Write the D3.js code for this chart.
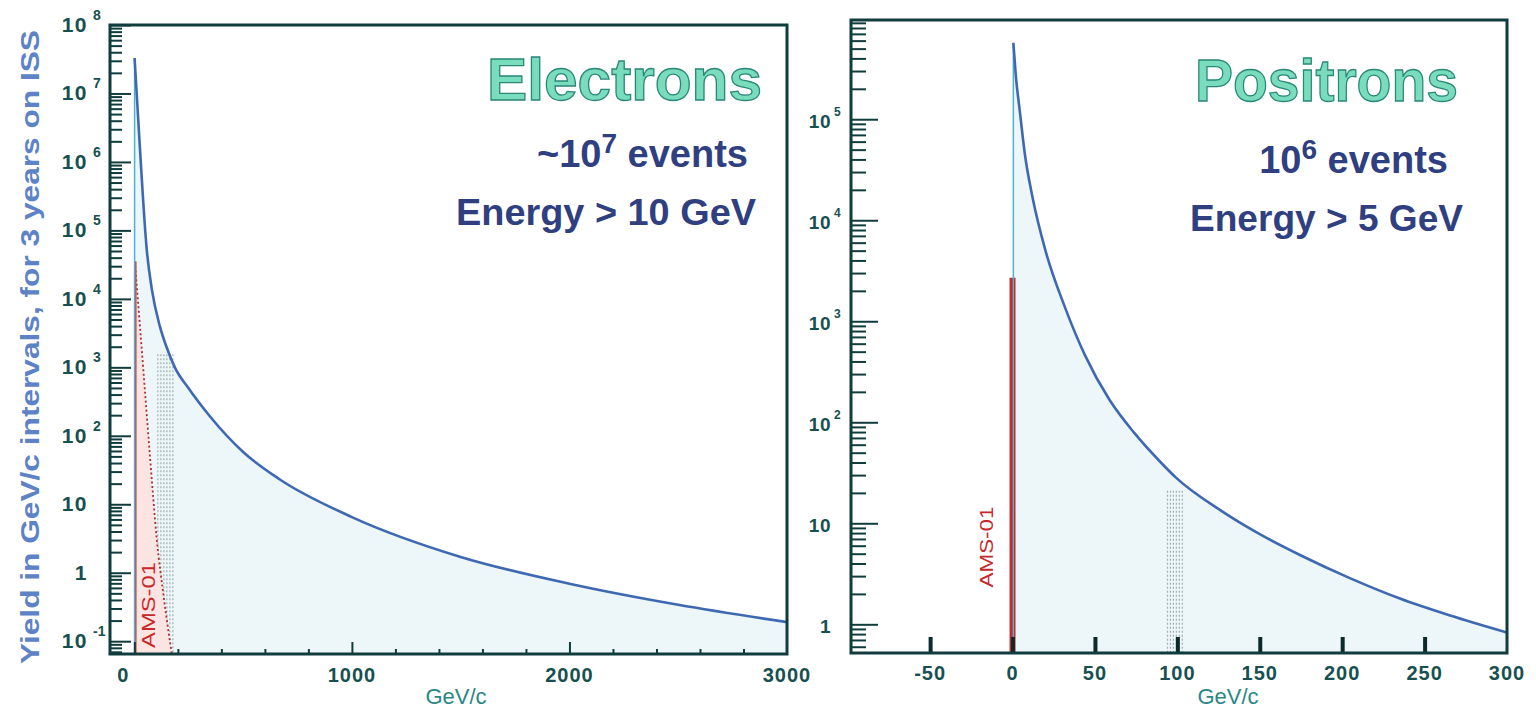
<!DOCTYPE html>
<html>
<head>
<meta charset="utf-8">
<script src="https://cdn.jsdelivr.net/npm/d3@7/dist/d3.min.js"></script>
<style>
  body { margin: 0; background: #fff; }
  svg { display: block; }
  text { font-family: "Liberation Sans", Arial, Helvetica, sans-serif; }
</style>
</head>
<body>
<svg id="chart" width="1536" height="712"></svg>
<script>
// ---- Electrons: yield per GeV/c interval, 3 years on ISS ----
const electronMomentum = [1, 25, 57, 80, 117, 150, 186, 250, 347, 500, 669, 1000, 1500, 2000, 2500, 3000];
const electronYield    = [3.3e7, 1.7e6, 5.2e4, 1.4e4, 4.0e3, 1.9e3, 1.0e3, 490, 193, 58, 23, 6.5, 1.7, 0.69, 0.34, 0.19];

// AMS-01 electron yield (shaded)
const amsElectronMomentum = [2, 25, 48, 71, 103, 136, 172];
const amsElectronYield    = [3.5e4, 4.3e3, 480, 54, 3.1, 0.42, 0.065];

// hatched momentum band and its height
const electronBand = [108, 177];
const electronBandTop = 1550;

// ---- Positrons ----
const positronMomentum = [0.5, 2, 4.5, 7.5, 12, 20, 32, 44, 59, 74, 90, 99, 126, 150, 175, 205, 235, 265, 300];
const positronYield    = [5.7e5, 2.7e5, 1.17e5, 4.5e4, 1.73e4, 5.0e3, 1.35e3, 460, 165, 78, 40, 28.5, 13.5, 7.8, 4.8, 2.85, 1.8, 1.23, 0.83];

// AMS-01 positrons: single bar at the origin
const amsPositronMomentum = 0;
const amsPositronYield = 2.7e3;

const positronBand = [94, 103];
const positronBandTop = 21;

// ---- axes ----
const electronYTicks = [1e-1, 1, 10, 1e2, 1e3, 1e4, 1e5, 1e6, 1e7, 1e8];
const electronXTicks = [0, 1000, 2000, 3000];
const electronXMinor = [200, 400, 600, 800, 1200, 1400, 1600, 1800, 2200, 2400, 2600, 2800];
const positronYTicks = [1, 10, 1e2, 1e3, 1e4, 1e5];
const positronXTicks = [-50, 0, 50, 100, 150, 200, 250, 300];

const INK = "#113c3d";
const LABEL = "#17504f";
const CURVE = "#3e69b1";
const EDGE = "#4cb2d4";
const FILL = "#edf6f9";
const RED = "#c6282b";

const svg = d3.select("#chart");
svg.append("rect").attr("width", 1536).attr("height", 712).attr("fill", "#fff");

function logMinor(scale) {
  const [lo, hi] = scale.domain();
  const out = [];
  for (let k = Math.floor(Math.log10(lo)); k <= Math.ceil(Math.log10(hi)); k++)
    for (let m = 2; m <= 9; m++) {
      const v = m * Math.pow(10, k);
      if (v >= lo && v <= hi) out.push(v);
    }
  return out;
}

function drawPanel(p) {
  const g = svg.append("g");
  const [x0, x1] = p.x.range();
  const [yb, yt] = p.y.range();

  const clipId = "clip" + p.id;
  svg.append("clipPath").attr("id", clipId)
    .append("rect").attr("x", x0).attr("y", yt).attr("width", x1 - x0).attr("height", yb - yt);
  const plot = g.append("g").attr("clip-path", `url(#${clipId})`);

  const pts = p.mom.map((m, i) => [m, p.yield[i]]);

  // filled yield under the curve
  plot.append("path")
    .attr("d", d3.area().x(d => p.x(d[0])).y0(yb).y1(d => p.y(d[1])).curve(d3.curveMonotoneX)(pts))
    .attr("fill", FILL);

  // hatched band
  const bx = d3.range(p.band[0], p.band[1] + 0.001, (p.band[1] - p.band[0]) / 5);
  plot.append("g").selectAll("line").data(bx).join("line")
    .attr("x1", d => p.x(d)).attr("x2", d => p.x(d))
    .attr("y1", p.y(p.bandTop)).attr("y2", yb)
    .attr("stroke", "#9fb0b0").attr("stroke-width", 1.2).attr("stroke-dasharray", "2,2");

  p.extra && p.extra(plot);

  // left edge of the yield histogram
  plot.append("line")
    .attr("x1", p.x(pts[0][0])).attr("x2", p.x(pts[0][0]))
    .attr("y1", yb).attr("y2", p.y(pts[0][1]))
    .attr("stroke", EDGE).attr("stroke-width", 1.5);

  // yield curve
  plot.append("path")
    .attr("d", d3.line().x(d => p.x(d[0])).y(d => p.y(d[1])).curve(d3.curveMonotoneX)(pts))
    .attr("fill", "none").attr("stroke", CURVE).attr("stroke-width", 2.6);

  // y ticks (inward)
  const yMinor = g.append("g").attr("transform", `translate(${x0},0)`)
    .call(d3.axisLeft(p.y).tickValues(logMinor(p.y)).tickSize(-p.minorLen).tickFormat(""));
  const yMajor = g.append("g").attr("transform", `translate(${x0},0)`)
    .call(d3.axisLeft(p.y).tickValues(p.majorY).tickSize(-p.majorLen).tickFormat(""));
  [yMinor, yMajor].forEach(a => {
    a.select(".domain").remove();
    a.selectAll("line").attr("stroke", INK).attr("stroke-width", 2);
  });

  // y tick labels: 10 with exponent
  const lab = g.append("g").attr("fill", LABEL).attr("font-weight", "bold");
  p.yLabels.forEach(v => {
    const e = Math.round(Math.log10(v));
    const yy = p.y(v);
    if (yy < yt - 1 || yy > yb + 1) return;
    const base = e === 0 ? "1" : "10";
    lab.append("text").attr("x", p.labelX).attr("y", yy + p.baseDy)
      .attr("text-anchor", "end").attr("font-size", p.labelSize).attr("letter-spacing", p.labelSpacing)
      .text(base);
    if (e !== 0 && e !== 1) {
      lab.append("text").attr("x", p.labelX + p.expDx).attr("y", yy + p.expDy)
        .attr("font-size", p.expSize).text(String(e));
    }
  });

  // x ticks
  p.xTicksDraw(g);

  // frame
  g.append("rect").attr("x", x0).attr("y", yt).attr("width", x1 - x0).attr("height", yb - yt)
    .attr("fill", "none").attr("stroke", INK).attr("stroke-width", 3);

  // x tick labels
  g.append("g").attr("fill", LABEL).attr("font-weight", "bold")
    .selectAll("text").data(p.xLabels).join("text")
    .attr("x", d => p.x(d) + (p.xLabelDx ? p.xLabelDx(d) : 0))
    .attr("y", p.xLabelY).attr("text-anchor", "middle")
    .attr("font-size", p.xLabelSize).attr("letter-spacing", 1)
    .text(d => d);

  // axis title
  g.append("text").attr("x", p.xTitleX).attr("y", p.xTitleY).attr("text-anchor", "middle")
    .attr("fill", "#2a8784").attr("font-size", 22).text("GeV/c");

  // panel titles
  g.append("text").attr("x", p.title.x).attr("y", p.title.y).attr("text-anchor", "end")
    .attr("font-size", 60).attr("font-weight", "bold")
    .attr("textLength", p.title.len).attr("lengthAdjust", "spacingAndGlyphs")
    .attr("fill", "#78dcbd").attr("stroke", "#2a8877").attr("stroke-width", 1.3)
    .text(p.title.text);

  const ev = g.append("text").attr("x", p.events.x).attr("y", p.events.y).attr("text-anchor", "end")
    .attr("font-size", 38).attr("font-weight", "bold").attr("fill", "#2f3f80");
  ev.append("tspan").text(p.events.pre);
  ev.append("tspan").attr("font-size", 28).attr("dy", -14).text(p.events.sup);
  ev.append("tspan").attr("dy", 14).text(" events");

  g.append("text").attr("x", p.energy.x).attr("y", p.energy.y).attr("text-anchor", "end")
    .attr("font-size", 36).attr("font-weight", "bold").attr("fill", "#2f3f80")
    .attr("textLength", p.energy.len).attr("lengthAdjust", "spacingAndGlyphs")
    .text(p.energy.text);

  // AMS-01 label
  g.append("text").attr("transform", `translate(${p.ams.x},${p.ams.y}) rotate(-90)`)
    .attr("text-anchor", "middle").attr("font-size", 19).attr("fill", RED)
    .attr("textLength", p.ams.len).attr("lengthAdjust", "spacingAndGlyphs")
    .text("AMS-01");
}

// ---------- Electrons ----------
const xE = d3.scaleLinear().domain([-112, 3000]).range([110, 787]);
const yE = d3.scaleLog().domain([0.065, 1e8]).range([654, 25]);

drawPanel({
  id: "E", x: xE, y: yE,
  mom: electronMomentum, yield: electronYield,
  band: electronBand, bandTop: electronBandTop,
  majorY: electronYTicks, yLabels: electronYTicks,
  minorLen: 12, majorLen: 21,
  labelX: 88, labelSize: 21, labelSpacing: 1.5, baseDy: 7,
  expDx: 5, expDy: -5, expSize: 14,
  xLabels: electronXTicks, xLabelY: 682, xLabelSize: 20,
  xLabelDx: d => (d === 0 ? -11 : 0),
  xTitleX: 456, xTitleY: 704,
  title: { text: "Electrons", x: 762, y: 100, len: 275 },
  events: { pre: "~10", sup: "7", x: 748, y: 167 },
  energy: { text: "Energy > 10 GeV", x: 756, y: 225, len: 300 },
  ams: { x: 155, y: 605, len: 86 },
  extra: plot => {
    const pts = amsElectronMomentum.map((m, i) => [m, amsElectronYield[i]]);
    const yb = yE.range()[0];
    plot.append("path")
      .attr("d", d3.area().x(d => xE(d[0])).y0(yb).y1(d => yE(d[1])).curve(d3.curveMonotoneX)(pts))
      .attr("fill", "#fbe4e1");
    plot.append("path")
      .attr("d", d3.line().x(d => xE(d[0])).y(d => yE(d[1])).curve(d3.curveMonotoneX)(pts))
      .attr("fill", "none").attr("stroke", "#a8302f").attr("stroke-width", 1.8).attr("stroke-dasharray", "2,2.5");
    plot.append("line")
      .attr("x1", xE(pts[0][0]) + 1).attr("x2", xE(pts[0][0]) + 1)
      .attr("y1", yb).attr("y2", yE(pts[0][1]))
      .attr("stroke", "#d23a3a").attr("stroke-width", 1.5);
  },
  xTicksDraw: g => {
    const yb = yE.range()[0];
    const minor = g.append("g").attr("transform", `translate(0,${yb})`)
      .call(d3.axisBottom(xE).tickValues(electronXMinor).tickSize(-5).tickFormat(""));
    const major = g.append("g").attr("transform", `translate(0,${yb})`)
      .call(d3.axisBottom(xE).tickValues(electronXTicks.slice(0, 3)).tickSize(-12).tickFormat(""));
    [minor, major].forEach(a => {
      a.select(".domain").remove();
      a.selectAll("line").attr("stroke", INK).attr("stroke-width", 2);
    });
  }
});

// y-axis title (left panel)
svg.append("text")
  .attr("transform", "translate(39,347) rotate(-90)")
  .attr("text-anchor", "middle").attr("font-size", 25).attr("font-weight", "bold")
  .attr("fill", "#5d82c6")
  .attr("textLength", 634).attr("lengthAdjust", "spacingAndGlyphs")
  .text("Yield in GeV/c intervals, for 3 years on ISS");

// ---------- Positrons ----------
const xP = d3.scaleLinear().domain([-98, 300]).range([851, 1507]);
const yP = d3.scaleLog().domain([0.52, 9.6e5]).range([653, 20]);

drawPanel({
  id: "P", x: xP, y: yP,
  mom: positronMomentum, yield: positronYield,
  band: positronBand, bandTop: positronBandTop,
  majorY: positronYTicks, yLabels: positronYTicks,
  minorLen: 15, majorLen: 27,
  labelX: 831, labelSize: 19, labelSpacing: 0.5, baseDy: 9,
  expDx: 3, expDy: -3, expSize: 12,
  xLabels: positronXTicks, xLabelY: 680, xLabelSize: 20,
  xTitleX: 1228, xTitleY: 704,
  title: { text: "Positrons", x: 1458, y: 101, len: 263 },
  events: { pre: "10", sup: "6", x: 1448, y: 173 },
  energy: { text: "Energy > 5 GeV", x: 1463, y: 231, len: 273 },
  ams: { x: 993, y: 547, len: 81 },
  extra: plot => {
    const yb = yP.range()[0];
    plot.append("line")
      .attr("x1", xP(amsPositronMomentum)).attr("x2", xP(amsPositronMomentum))
      .attr("y1", yb).attr("y2", yP(amsPositronYield))
      .attr("stroke", RED).attr("stroke-width", 6);
  },
  xTicksDraw: g => {
    const yb = yP.range()[0];
    const ax = g.append("g").attr("transform", `translate(0,${yb})`)
      .call(d3.axisBottom(xP).tickValues(positronXTicks.slice(0, -1)).tickSize(-16).tickFormat(""));
    ax.select(".domain").remove();
    ax.selectAll("line").attr("stroke", "#0d2a2a").attr("stroke-width", 4);
  }
});
</script>
</body>
</html>
